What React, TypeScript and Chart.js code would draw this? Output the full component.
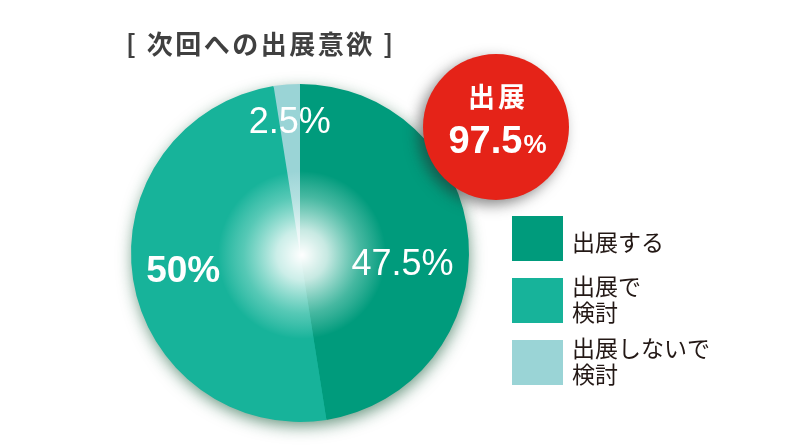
import React, { useEffect, useRef } from "react";
import { Chart, registerables } from "chart.js";

Chart.register(...registerables);

const categories = ["出展する", "出展で検討", "出展しないで検討"];
const legendLines = [["出展する"], ["出展で", "検討"], ["出展しないで", "検討"]];
const values = [47.5, 50, 2.5];
const valueLabels = ["47.5%", "50%", "2.5%"];
const colors = ["#009B7C", "#17B39A", "#9AD4D6"];
const titleText = "[ 次回への出展意欲 ]";
const badgeTitle = "出展";
const badgeValue = "97.5";

const CJK = '"Noto Sans CJK JP", sans-serif';
const LAT = '"Liberation Sans", Arial, sans-serif';

const labelRadiusRatio = [0.61, 0.7, 0.77];
const labelAngleShift = [11, 0, 0];
const labelBold = [false, true, false];
const labelSize = [36, 37, 36];

const decorPlugin = {
  id: "decor",
  beforeDatasetsDraw(chart: any) {
    const arc = chart.getDatasetMeta(0).data[0];
    if (!arc) return;
    const ctx = chart.ctx;
    ctx.save();
    ctx.beginPath();
    ctx.arc(arc.x, arc.y, arc.outerRadius - 1, 0, Math.PI * 2);
    ctx.fillStyle = "#17B39A";
    ctx.shadowColor = "rgba(20,90,55,0.65)";
    ctx.shadowBlur = 16;
    ctx.shadowOffsetX = 1;
    ctx.shadowOffsetY = 5;
    ctx.fill();
    ctx.restore();
  },
  afterDatasetsDraw(chart: any) {
    const meta = chart.getDatasetMeta(0);
    const arc0 = meta.data[0];
    if (!arc0) return;
    const ctx = chart.ctx;
    const cx = arc0.x + 2;
    const cy = arc0.y + 2;
    ctx.save();
    const g = ctx.createRadialGradient(cx, cy, 0, cx, cy, 84);
    g.addColorStop(0, "rgba(255,255,255,1)");
    g.addColorStop(0.3, "rgba(255,255,255,0.78)");
    g.addColorStop(0.7, "rgba(230,250,245,0.3)");
    g.addColorStop(1, "rgba(255,255,255,0)");
    ctx.fillStyle = g;
    ctx.beginPath();
    ctx.arc(cx, cy, 84, 0, Math.PI * 2);
    ctx.fill();

    // slice labels
    ctx.fillStyle = "#ffffff";
    ctx.textAlign = "center";
    ctx.textBaseline = "middle";
    meta.data.forEach((arc: any, i: number) => {
      const mid = (arc.startAngle + arc.endAngle) / 2 + (labelAngleShift[i] * Math.PI) / 180;
      const r = arc.outerRadius * labelRadiusRatio[i];
      const x = arc.x + Math.cos(mid) * r;
      const y = arc.y + Math.sin(mid) * r;
      ctx.font = (labelBold[i] ? "bold " : "") + labelSize[i] + "px " + LAT;
      ctx.fillText(valueLabels[i], x, y);
    });
    ctx.restore();
  },
  afterDraw(chart: any) {
    const ctx = chart.ctx;
    ctx.save();
    // title
    ctx.fillStyle = "#404040";
    ctx.font = "bold 26px " + CJK;
    ctx.textAlign = "left";
    ctx.textBaseline = "middle";
    (ctx as any).letterSpacing = "2.5px";
    ctx.fillText(titleText, 126, 44);
    (ctx as any).letterSpacing = "0px";

    // red badge
    const bx = 496, by = 127, br = 73;
    ctx.save();
    ctx.shadowColor = "rgba(40,40,40,0.55)";
    ctx.shadowBlur = 14;
    ctx.shadowOffsetX = -5;
    ctx.shadowOffsetY = 5;
    ctx.beginPath();
    ctx.arc(bx, by, br, 0, Math.PI * 2);
    ctx.fillStyle = "#E52318";
    ctx.fill();
    ctx.restore();

    ctx.fillStyle = "#ffffff";
    ctx.textAlign = "center";
    ctx.textBaseline = "middle";
    ctx.font = "bold 27px " + CJK;
    (ctx as any).letterSpacing = "3px";
    ctx.fillText(badgeTitle, bx + 2, by - 30);
    (ctx as any).letterSpacing = "0px";
    ctx.font = "bold 38px " + LAT;
    const w1 = ctx.measureText(badgeValue).width;
    ctx.font = "bold 26px " + LAT;
    const w2 = ctx.measureText("%").width;
    const startX = bx + 1 - (w1 + w2) / 2;
    ctx.textAlign = "left";
    ctx.textBaseline = "alphabetic";
    ctx.font = "bold 38px " + LAT;
    ctx.fillText(badgeValue, startX, by + 26);
    ctx.font = "bold 26px " + LAT;
    ctx.fillText("%", startX + w1 + 1, by + 26);

    // legend
    const boxX = 512, boxW = 51, boxH = 45;
    const boxYs = [216, 278, 340];
    categories.forEach((_, i) => {
      ctx.fillStyle = colors[i];
      ctx.fillRect(boxX, boxYs[i], boxW, boxH);
      ctx.fillStyle = "#231815";
      ctx.font = "23px " + CJK;
      ctx.textAlign = "left";
      ctx.textBaseline = "middle";
      const lines = legendLines[i];
      const firstY = lines.length === 1 ? boxYs[i] + 26 : boxYs[i] + 8;
      lines.forEach((ln, j) => {
        ctx.fillText(ln, 572, firstY + j * 26);
      });
    });
    ctx.restore();
  },
};

export default function App() {
  const ref = useRef<HTMLCanvasElement | null>(null);
  useEffect(() => {
    if (!ref.current) return;
    const chart = new Chart(ref.current, {
      type: "pie",
      data: {
        labels: categories,
        datasets: [
          {
            data: values,
            backgroundColor: colors,
            borderWidth: 0,
            hoverOffset: 0,
            offset: 0,
          },
        ],
      },
      options: {
        responsive: false,
        animation: false,
        events: [],
        layout: { padding: { left: 131, right: 331, top: 84, bottom: 25 } },
        plugins: {
          legend: { display: false },
          tooltip: { enabled: false },
          title: { display: false },
        },
      },
      plugins: [decorPlugin],
    });
    return () => chart.destroy();
  }, []);
  return (
    <div style={{ position: "absolute", left: 0, top: 0, width: 800, height: 447, background: "#ffffff" }}>
      <canvas ref={ref} width={800} height={447} />
    </div>
  );
}
